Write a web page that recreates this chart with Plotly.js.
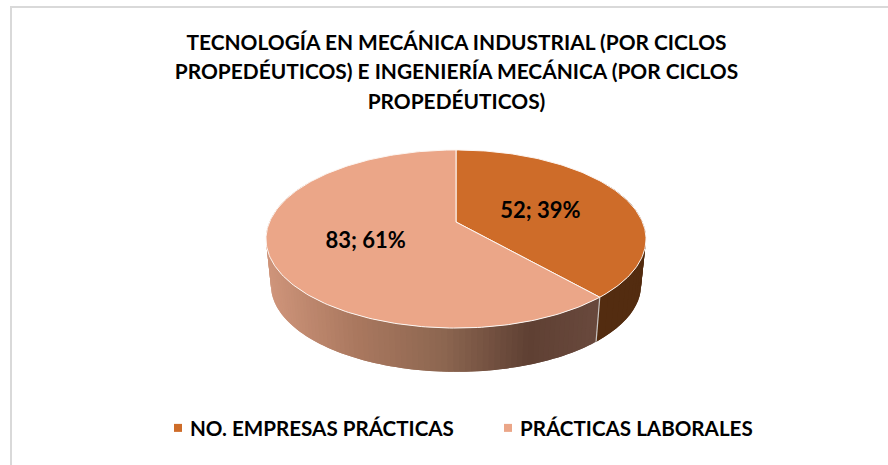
<!DOCTYPE html>
<html><head><meta charset="utf-8">
<script src="https://cdn.plot.ly/plotly-3.0.1.min.js"></script>
<style>html,body{margin:0;padding:0;background:#fff}#c{width:888px;height:465px}</style>
</head><body><div id="c"></div>
<script>
const categories = ["NO. EMPRESAS PRÁCTICAS", "PRÁCTICAS LABORALES"];
const values = [52, 83];
const topColors = ["#CE6C29", "#EBA688"];
const titleLines = ["TECNOLOGÍA EN MECÁNICA INDUSTRIAL (POR CICLOS", "PROPEDÉUTICOS) E INGENIERÍA MECÁNICA (POR CICLOS", "PROPEDÉUTICOS)"];

// projected disc: pixel-valued axes, perspective view of a circle
const view = {cx:456, py:222, X:186.5, A:85.8, k:0.191, lowerScale:0.974, lowerPy:268.5};
const W = 888, H = 465;
const total = values.reduce((a,b)=>a+b,0);
const rad = d => d*Math.PI/180;
function rim(theta, r){ r = r===undefined?1:r;
  const u=r*Math.sin(rad(theta)), v=-r*Math.cos(rad(theta)), w=1-view.k*v;
  return [view.cx+view.X*u/w, view.py+view.A*v/w];
}
function lower(theta){ const p=rim(theta);
  return [view.cx+(p[0]-view.cx)*view.lowerScale, view.lowerPy+(p[1]-view.py)*view.lowerScale];
}
function range(a,b,step){ const o=[]; for(let t=a;t<b;t+=step)o.push(t); o.push(b); return o; }
function mix(stops,x){
  let i=0; while(i<stops.length-2 && x>stops[i+1][0]) i++;
  const a=stops[i],b=stops[i+1],f=Math.max(0,Math.min(1,(x-a[0])/(b[0]-a[0])));
  const c=[0,1,2].map(j=>Math.round(a[1][j]+(b[1][j]-a[1][j])*f));
  return `rgb(${c[0]},${c[1]},${c[2]})`;
}
const boundary = values[0]/total*360;
const wallStops = [[271,[206,148,122]],[360,[170,120,95]],[450,[140,102,80]],[535,[95,64,51]],[597,[104,72,60]]];
const traces = [];
function poly(pts,fill,line,lw){
  traces.push({type:"scatter",mode:line?"lines":"none",x:pts.map(p=>p[0]),y:pts.map(p=>p[1]),fill:"toself",fillcolor:fill,
    line:{color:line||fill,width:lw||0},hoverinfo:"skip",showlegend:false});
}
// side wall: overlapping strips, painted in order
function wall(a,b,step,colorOf){
  const th=range(a,b,step);
  for(let i=th.length-2;i>=0;i--){
    const j=Math.min(i+2,th.length-1);
    poly([rim(th[i]),rim(th[i+1]),rim(th[j]),lower(th[j]),lower(th[i+1]),lower(th[i])],colorOf((rim(th[i])[0]+rim(th[i+1])[0])/2));
  }
}
wall(60,boundary,3,()=>"#532C10");
wall(boundary,300,1.5,x=>mix(wallStops,x));
// seam between the walls
{ const s=[rim(boundary),lower(boundary)];
  traces.push({type:"scatter",mode:"lines",x:s.map(p=>p[0]),y:s.map(p=>p[1]),line:{color:"#c9c5c2",width:1.2},hoverinfo:"skip",showlegend:false}); }
// top faces
let start=0;
values.forEach((v,i)=>{
  const end=start+v/total*360, th=range(start,end,1);
  const pts=[[view.cx,view.py]].concat(th.map(t=>rim(t))); pts.push([view.cx,view.py]);
  poly(pts,topColors[i],"#fdf6f2",1);
  start=end;
});
// data labels
start=0;
const lx=[],ly=[],lt=[];
values.forEach(v=>{
  const f=v/total*360, p=rim(start+f/2,0.5);
  lx.push(p[0]); ly.push(p[1]+5); lt.push(`${v}; ${Math.round(v/total*100)}%`);
  start+=f;
});
traces.push({type:"scatter",mode:"text",x:lx,y:ly,text:lt,textposition:"middle center",
  textfont:{family:"Lato",size:22,weight:700,color:"#000"},hoverinfo:"skip",showlegend:false});
// legend entries
categories.forEach((c,i)=>traces.push({type:"scatter",mode:"markers",x:[null],y:[null],name:c,
  marker:{symbol:"square",size:8,color:topColors[i]}}));

const gray="#d9d9d9";
const titleSize=20.9;
const layout={
  width:W,height:H,margin:{l:0,r:0,t:0,b:0,autoexpand:false},paper_bgcolor:"#fff",plot_bgcolor:"#fff",
  xaxis:{range:[0,W],visible:false,fixedrange:true},
  yaxis:{range:[H,0],visible:false,fixedrange:true},
  title:{text:titleLines.join("<br>"),x:456.5/W,xanchor:"center",y:1-49.5/H,yanchor:"middle",
    font:{family:"Lato",size:titleSize,weight:700,color:"#000"}},
  showlegend:true,
  legend:{orientation:"h",x:150/W,xanchor:"left",y:1-428/H,yanchor:"middle",bgcolor:"rgba(0,0,0,0)",
    font:{family:"Lato",size:20.6,weight:700,color:"#000"},entrywidth:285,entrywidthmode:"pixels",itemclick:false,itemdoubleclick:false},
  shapes:[
    {type:"line",xref:"x",yref:"y",x0:10,x1:W,y0:7,y1:7,line:{color:gray,width:2}},
    {type:"line",xref:"x",yref:"y",x0:11,x1:11,y0:6,y1:H,line:{color:gray,width:2}}
  ]
};
Plotly.newPlot("c",traces,layout,{displayModeBar:false,staticPlot:true}).then(()=>{
  // reference spacing: wider title leading, legend swatches closer to their text
  document.querySelectorAll(".gtitle tspan.line").forEach((t,i)=>t.setAttribute("dy",(i*29.5/titleSize)+"em"));
  document.querySelectorAll(".legendsymbols").forEach(g=>g.setAttribute("transform","translate(8,0)"));
});
</script></body></html>
